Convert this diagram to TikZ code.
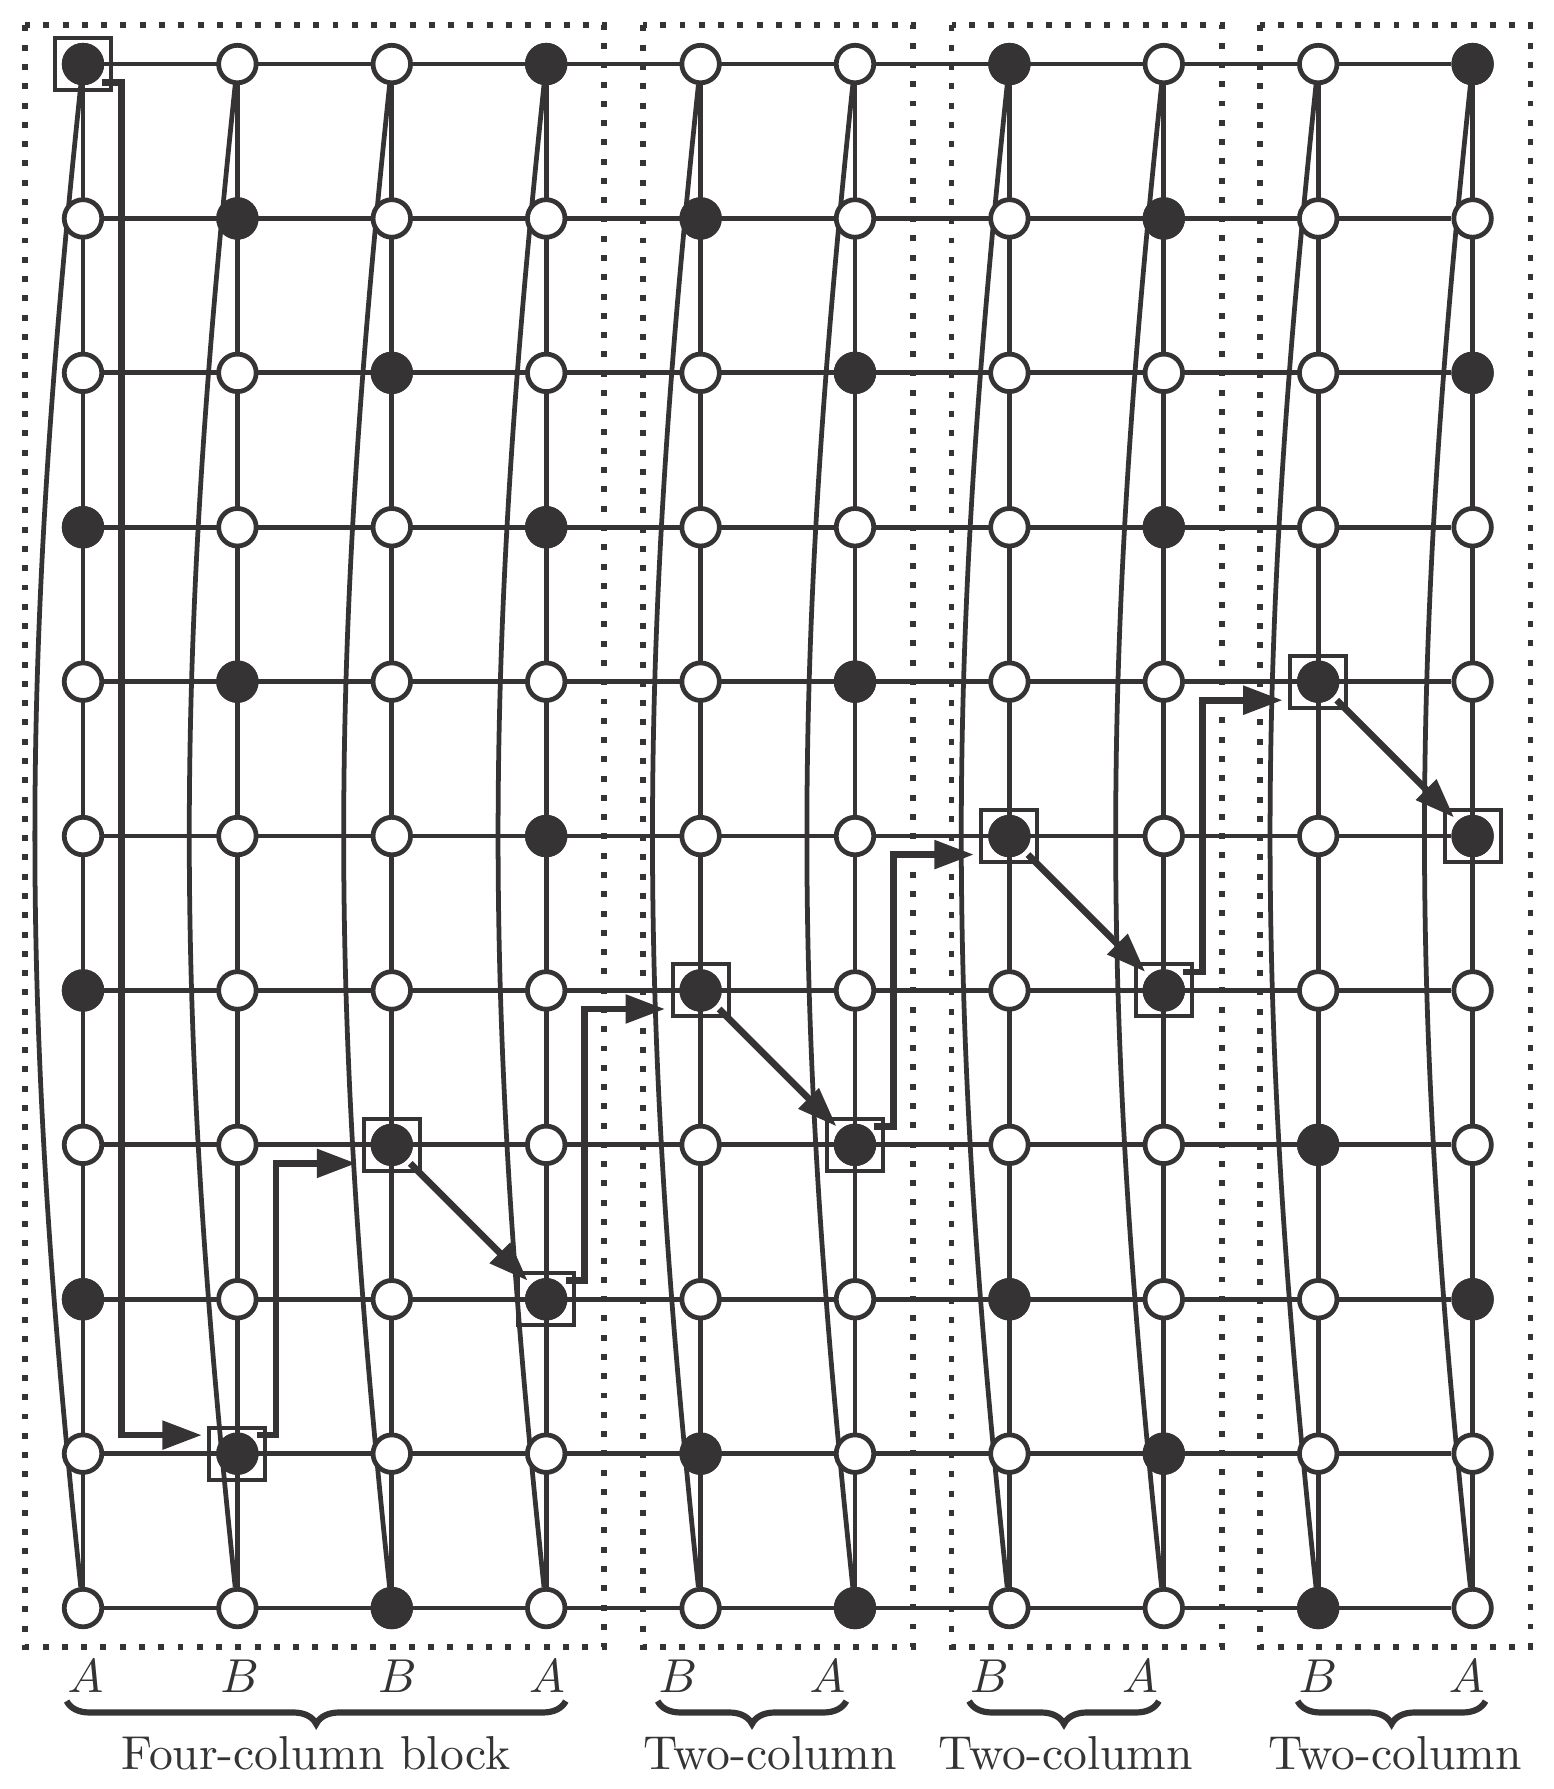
\documentclass[tikz,border=0pt]{standalone}
\usetikzlibrary{arrows.meta,calc,decorations.pathreplacing,backgrounds}
\definecolor{ink}{RGB}{53,51,52}
\tikzset{
  wnode/.style={circle,draw=ink,fill=white,line width=1pt,inner sep=0pt,minimum size=0.277cm},
  bnode/.style={wnode,fill=ink},
  pick/.style={rectangle,draw=ink,line width=0.85pt,inner sep=0pt,minimum width=0.413cm,minimum height=0.384cm},
  link/.style={draw=ink,line width=1pt},
  hop/.style={draw=ink,line width=1.4pt,-{Triangle[length=8.3pt,width=5.8pt]}},
  blockbox/.style={draw=ink,line width=1.25pt,dash pattern=on 1.25pt off 2.8pt},
  grp/.style={draw=ink,line width=1.3pt,decorate,decoration={brace,mirror,amplitude=4.8pt}},
  lab/.style={text=ink,inner sep=0pt,anchor=base}
}
\begin{document}
\begin{tikzpicture}[x=1.14cm,y=1.14cm]
\useasboundingbox (-0.5376,0.415) rectangle (9.521,-11.172);
% lattice sites
\foreach \i in {0,...,9}
  \foreach \j in {0,...,10}
    \node[wnode] (v-\i-\j) at (\i,-\j) {};
% occupied sites
\foreach \i/\j in {0/0,3/0,6/0,9/0, 1/1,4/1,7/1, 2/2,5/2,9/2, 0/3,3/3,7/3,
    1/4,5/4,8/4, 3/5,6/5,9/5, 0/6,4/6,7/6, 2/7,5/7,8/7, 0/8,3/8,6/8,9/8,
    1/9,4/9,7/9, 2/10,5/10,8/10}
  \node[bnode] (b-\i-\j) at (v-\i-\j) {};
% bonds
\begin{scope}[on background layer]
\foreach \j in {0,...,10}
  \draw[link] (v-0-\j) -- (v-9-\j);
\foreach \i in {0,...,9} {
  \draw[link] (v-\i-0) -- (v-\i-10);
  \draw[link] (v-\i-0) to[bend right=6] (v-\i-10);
}
\end{scope}
% blocks
\foreach \a/\b in {0/3,4/5,6/7,8/9}
  \draw[blockbox] (\a-0.375,0.25) rectangle (\b+0.375,-10.25);
% chosen sites
\foreach \i/\j in {0/0,1/9,2/7,3/8,4/6,5/7,6/5,7/6,8/4,9/5}
  \node[pick] (s-\i-\j) at (v-\i-\j) {};
% moves
\draw[hop] ($(v-0-0)+(0.125,-0.12)$) -- ++(0.125,0) |- ($(v-1-9)+(-0.23,0.12)$);
\foreach \a/\b/\c/\d in {1/9/2/7, 3/8/4/6, 5/7/6/5, 7/6/8/4}
  \draw[hop] ($(v-\a-\b)+(0.125,0.12)$) -- ++(0.125,0) |- ($(v-\c-\d)+(-0.23,-0.12)$);
\foreach \a/\b/\c/\d in {2/7/3/8, 4/6/5/7, 6/5/7/6, 8/4/9/5}
  \draw[hop] ($(v-\a-\b)+(0.12,-0.12)$) -- ($(v-\c-\d)+(-0.12,0.12)$);
% column labels
\foreach \n/\x/\t in {0/0.016/A, 1/1.014/B, 2/2.036/B, 3/3.005/A, 4/3.853/B, 5/4.822/A,
    6/5.87/B, 7/6.846/A, 8/7.998/B, 9/8.962/A}
  \node[lab] (l-\n) at (\x,-10.55) {$\t$};
\foreach \a/\b in {0/3,4/5,6/7,8/9}
  \draw[grp] ([yshift=-1.5pt]l-\a.south west) -- ([yshift=-1.5pt]l-\b.south east);
\node[lab] (t-1) at (1.509,-11.048) {Four-column block};
\node[lab] (t-2) at (4.45,-11.048) {Two-column};
\node[lab] (t-3) at (6.366,-11.048) {Two-column};
\node[lab] (t-4) at (8.497,-11.048) {Two-column};
\end{tikzpicture}
\end{document}
